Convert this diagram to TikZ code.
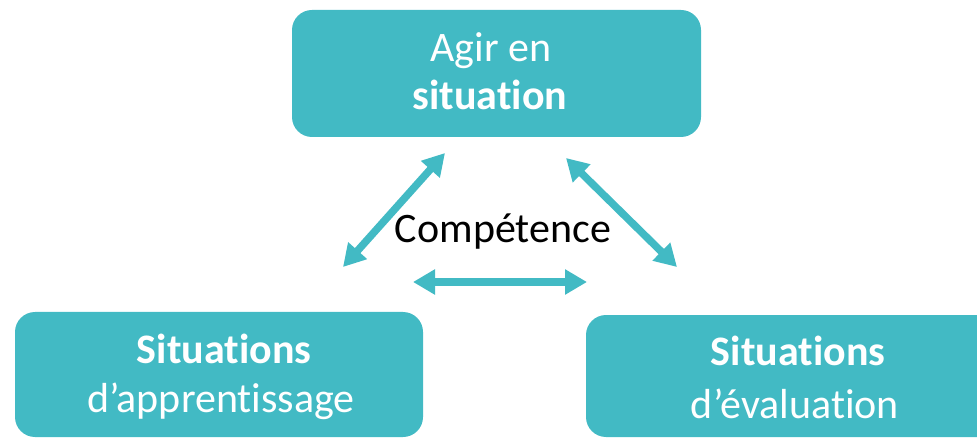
\documentclass[tikz,border=0pt]{standalone}
\usepackage{fontspec}
\setmainfont{Carlito}[Ligatures={NoCommon,NoContextual}]
\usetikzlibrary{arrows.meta}
\definecolor{tealbox}{RGB}{66,186,196}
\begin{document}
\begin{tikzpicture}[x=1pt,y=-1pt,
  box/.style={fill=tealbox, rounded corners=20pt, draw=none, inner sep=0pt},
  wtxt/.style={text=white, font=\fontsize{42}{48}\selectfont, anchor=base, inner sep=0pt},
  wbold/.style={wtxt, font=\fontsize{42}{48}\selectfont\bfseries},
  btxt/.style={text=black, font=\fontsize{42}{48}\selectfont, anchor=base, inner sep=0pt},
  dbl/.style={draw=tealbox, line width=7.5pt, {Triangle[length=22pt,width=24pt]}-{Triangle[length=22pt,width=24pt]}}]
\useasboundingbox (0,0) rectangle (977,438);
\clip (0,0) rectangle (977,438);
% boxes
\node[box, minimum width=409pt, minimum height=127pt] (top) at (496.5,73.5) {};
\node[box, minimum width=408pt, minimum height=125pt] (bl) at (219,374.5) {};
\node[box, minimum width=424pt, minimum height=122pt] (br) at (798,376) {};
% texts
\node[wtxt] (t1) at (491,62) {Agir en};
\node[wbold] (t2) at (490,110) {situation};
\node[wbold] (l1) at (224,363) {Situations};
\node[wtxt] (l2) at (221,412) {d’apprentissage};
\node[wbold] (r1) at (798,365) {Situations};
\node[wtxt] (r2) at (795,418) {d’évaluation};
\node[btxt] (comp) at (503,243) {Compétence};
% arrow ends
\coordinate (a1) at (445,153);
\coordinate (a2) at (343,267);
\coordinate (b1) at (566,158);
\coordinate (b2) at (677,267);
\coordinate (c1) at (413,282);
\coordinate (c2) at (587,282);
\draw[dbl] (a1) -- (a2);
\draw[dbl] (b1) -- (b2);
\draw[dbl] (c1) -- (c2);
\end{tikzpicture}
\end{document}
